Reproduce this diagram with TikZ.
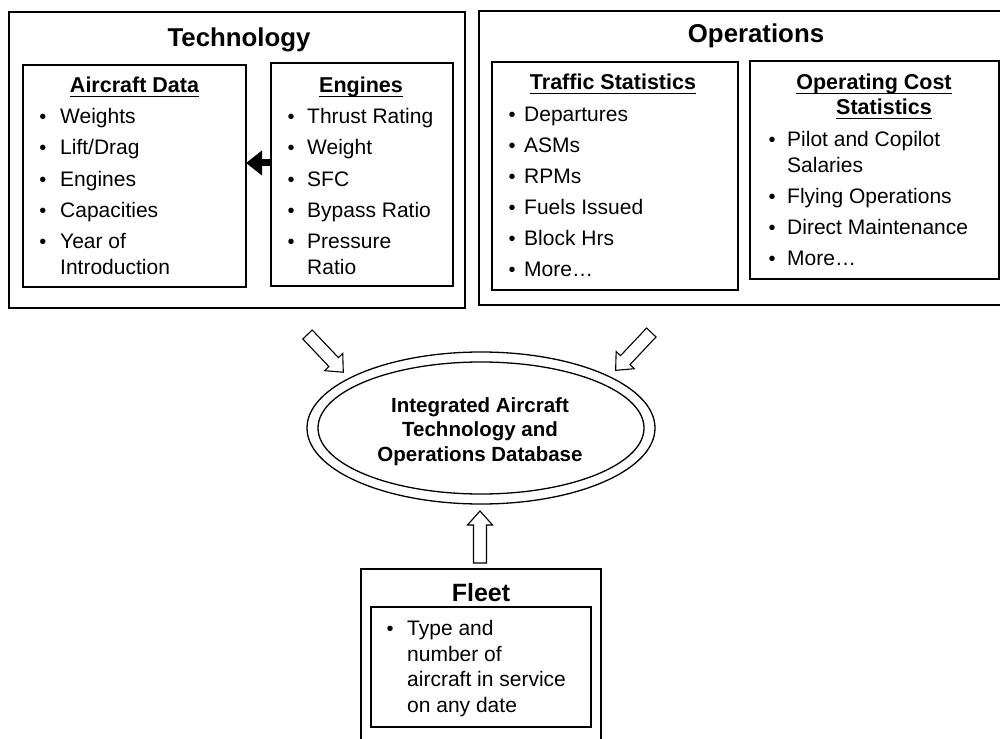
\documentclass[tikz,border=0pt]{standalone}
\usepackage{fontspec}
\setmainfont{Liberation Sans}
\usetikzlibrary{arrows.meta,shapes.geometric}
\newcommand\fitem{\fontsize{21}{25}\selectfont}
\newcommand\fbul{\fontsize{20}{24}\selectfont}
\newcommand\fhdr{\fontsize{21.5}{25}\selectfont\bfseries}
\newcommand\fttl{\fontsize{25.8}{30}\selectfont\bfseries}
\newcommand\fflt{\fontsize{25}{30}\selectfont\bfseries}
\newcommand\fell{\fontsize{20.5}{25}\selectfont\bfseries}
\begin{document}
\begin{tikzpicture}[x=1pt,y=-1pt,
  box/.style={draw, line width=1.5pt, inner sep=0pt, outer sep=0pt, anchor=north west},
  itm/.style={anchor=base west, inner sep=0pt, font=\fitem},
  bul/.style={anchor=base, inner sep=0pt, font=\fbul},
  hdr/.style={anchor=base, inner sep=0pt, font=\fhdr},
  ttl/.style={anchor=base, inner sep=0pt, font=\fttl},
  ell/.style={anchor=base, inner sep=0pt, font=\fell},
  uline/.style={line width=1.5pt},
  harrow/.pic={\draw[line width=1.1pt, line join=miter, fill=white]
     (0,-6.5) -- (38,-6.5) -- (38,-12.5) -- (52,0) -- (38,12.5) -- (38,6.5) -- (0,6.5) -- cycle;}
]
\useasboundingbox (0,0) rectangle (1000,738);
\clip (0,0) rectangle (1000,738);

% boxes
\node[box, minimum width=456pt, minimum height=296pt] (tech) at (9,12) {};
\node[box, minimum width=223pt, minimum height=222pt] (ad) at (23,65) {};
\node[box, minimum width=182pt, minimum height=223pt] (eng) at (271,63) {};
\node[box, minimum width=540pt, minimum height=294pt] (ops) at (479,11) {};
\node[box, minimum width=246pt, minimum height=228pt] (traf) at (492,62) {};
\node[box, minimum width=249pt, minimum height=218pt] (cost) at (750,61) {};
\node[box, minimum width=240pt, minimum height=200pt] (fleet) at (361,569) {};
\node[box, minimum width=220pt, minimum height=120pt] (fleetin) at (371,607) {};

% titles
\node[ttl] (techt) at (239,47) {Technology};
\node[ttl] (opst) at (756,43) {Operations};
\node[ttl, font=\fflt] (fleett) at (481,601) {Fleet};

% headers
\node[hdr] (adh) at (134.5,93) {Aircraft Data};
\node[hdr] (engh) at (361,93) {Engines};
\node[hdr] (trh) at (613,90) {Traffic Statistics};
\node[hdr] (coh1) at (874,90) {Operating Cost};
\node[hdr] (coh2) at (884,115) {Statistics};
\foreach \n in {adh,engh,trh,coh1,coh2}
  \draw[uline] ([yshift=-3.7pt]\n.base west) -- ([yshift=-3.7pt]\n.base east);

% Aircraft data items
\node[bul] (adb1) at (43,124) {•};
\node[itm] (adi1) at (60,124) {Weights};
\node[bul] (adb2) at (43,155) {•};
\node[itm] (adi2) at (60,155) {Lift/Drag};
\node[bul] (adb3) at (43,186) {•};
\node[itm] (adi3) at (60,186) {Engines};
\node[bul] (adb4) at (43,217) {•};
\node[itm] (adi4) at (60,217) {Capacities};
\node[bul] (adb5) at (43,248) {•};
\node[itm] (adi5) at (60,248) {Year of};
\node[itm] (adi6) at (60,274) {Introduction};

% Engines items
\node[bul] (enb1) at (291,124) {•};
\node[itm] (eni1) at (307,124) {Thrust Rating};
\node[bul] (enb2) at (291,155) {•};
\node[itm] (eni2) at (307,155) {Weight};
\node[bul] (enb3) at (291,186) {•};
\node[itm] (eni3) at (307,186) {SFC};
\node[bul] (enb4) at (291,217) {•};
\node[itm] (eni4) at (307,217) {Bypass Ratio};
\node[bul] (enb5) at (291,248) {•};
\node[itm] (eni5) at (307,248) {Pressure};
\node[itm] (eni6) at (307,274) {Ratio};

% Traffic statistics items
\node[bul] (trb1) at (512,122) {•};
\node[itm] (tri1) at (524,122) {Departures};
\node[bul] (trb2) at (512,153) {•};
\node[itm] (tri2) at (524,153) {ASMs};
\node[bul] (trb3) at (512,183) {•};
\node[itm] (tri3) at (524,183) {RPMs};
\node[bul] (trb4) at (512,214) {•};
\node[itm] (tri4) at (524,214) {Fuels Issued};
\node[bul] (trb5) at (512,245) {•};
\node[itm] (tri5) at (524,245) {Block Hrs};
\node[bul] (trb6) at (512,276) {•};
\node[itm] (tri6) at (524,276) {More…};

% Operating cost items
\node[bul] (cob1) at (772,147) {•};
\node[itm] (coi1) at (787,147) {Pilot and Copilot};
\node[itm] (coi2) at (787,172) {Salaries};
\node[bul] (cob3) at (772,203) {•};
\node[itm] (coi3) at (787,203) {Flying Operations};
\node[bul] (cob4) at (772,234) {•};
\node[itm] (coi4) at (787,234) {Direct Maintenance};
\node[bul] (cob5) at (772,265) {•};
\node[itm] (coi5) at (787,265) {More…};

% Fleet items
\node[bul] (flb1) at (390,635) {•};
\node[itm] (fli1) at (407,635) {Type and};
\node[itm] (fli2) at (407,661) {number of};
\node[itm] (fli3) at (407,686) {aircraft in service};
\node[itm] (fli4) at (407,712) {on any date};

% database ellipse
\node[draw, ellipse, line width=1.3pt, minimum width=348pt, minimum height=152pt, inner sep=0pt] (dbo) at (481,428) {};
\node[draw, ellipse, line width=1.3pt, minimum width=326pt, minimum height=132pt, inner sep=0pt] (db) at (481,428) {};
\node[ell] (db1) at (480,412) {Integrated Aircraft};
\node[ell] (db2) at (480,436) {Technology and};
\node[ell] (db3) at (480,461) {Operations Database};

% black arrow engines -> aircraft data
\draw[line width=7pt, -{Triangle[length=16pt,width=24pt]}] (eng.west |- 0,163) -- (ad.east |- 0,163);

% hollow arrows into database
\pic[rotate=-46.5] at (307.5,334.5) {harrow};
\pic[rotate=-133.3] at (651.3,332.5) {harrow};
\pic[rotate=90] at (480,563) {harrow};
\end{tikzpicture}
\end{document}
